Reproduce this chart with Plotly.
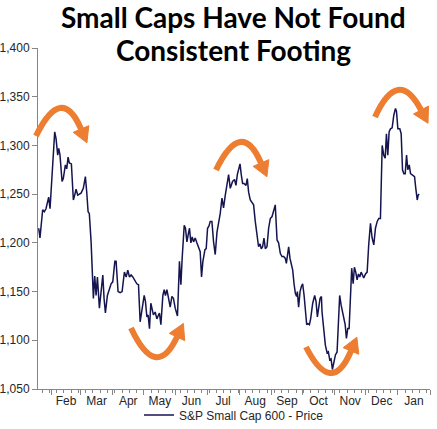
import pandas as pd
import plotly.graph_objects as go

# ---------------- data ----------------
start_date = "2023-01-19"
# calendar-day offsets from start_date for each observation
day_offsets = [
    0.7, 1.9, 4.5, 6.1, 7.7, 10.3, 11.6, 13.5, 14.8, 16.1,
    17.4, 19.0, 20.0, 21.2, 23.2, 24.4, 26.4, 27.7, 29.0, 30.2,
    32.2, 34.1, 35.4, 36.7, 38.3, 41.5, 43.7, 45.7, 47.0, 48.3,
    49.5, 51.2, 53.4, 54.7, 56.0, 57.3, 59.2, 61.1, 62.5, 63.7,
    65.0, 66.9, 68.8, 70.5, 72.1, 74.1, 75.3, 77.2, 79.2, 81.1,
    83.3, 85.0, 86.6, 88.2, 89.8, 91.4,
    95.3, 96.9, 98.5, 100.4, 102.4, 103.6, 105.0, 106.2, 107.5, 108.8,
    110.1, 111.3, 113.0, 114.6, 116.2, 117.1, 118.5, 120.4, 121.7, 122.9,
    124.3, 125.8, 127.5, 129.1, 130.6, 132.3, 134.5, 136.4, 137.8, 139.0,
    141.0, 142.2, 143.6, 145.1, 146.1, 147.4, 148.7, 150.0, 151.6, 153.2,
    154.8, 156.4, 157.7, 159.0, 161.0, 162.2, 163.5, 164.8, 166.1, 167.7,
    169.3, 170.9, 172.6, 174.1, 175.7, 177.4, 178.9, 180.6, 182.2,
    183.8, 185.4, 187.6, 189.5, 190.9, 192.2, 193.4, 194.8, 196.0, 197.3,
    198.6, 200.6, 201.8, 203.1, 204.7, 206.3, 207.9, 209.5, 211.2, 212.7,
    214.1, 215.3, 216.6, 217.9, 219.2, 220.8, 222.4, 224.0, 225.7, 227.2,
    228.8, 230.5, 232.0, 233.7, 235.3, 236.9, 238.5, 239.5, 240.4, 241.7,
    243.0, 244.3, 245.6, 246.9, 248.2, 249.4, 250.1, 251.3, 252.7, 253.9,
    255.2, 256.6, 257.8, 259.1, 260.4, 261.7, 262.9, 264.9, 266.8, 268.1,
    269.4, 270.7, 272.0, 273.3,
    273.9, 275.5, 277.1, 278.8, 280.0, 281.3, 282.6, 283.9, 285.1, 286.8,
    288.4, 290.0, 290.9, 292.3, 293.5, 294.8, 296.2, 297.4, 298.7, 300.0,
    301.3, 302.5, 303.9, 305.1, 306.4, 307.7, 309.0, 310.3, 311.6, 312.9,
    314.1, 315.8, 317.4, 318.9, 320.6, 322.2, 323.8, 325.4, 327.1, 328.6,
    330.2, 331.9, 333.4, 334.8, 336.0, 337.3, 338.6, 339.9, 341.5, 343.1,
    344.7, 345.7, 347.0, 348.9, 350.2, 351.5, 352.8, 354.1, 355.4, 356.6,
    358.0, 359.2, 360.5, 361.8, 363.1, 364.3, 365.7, 366.6, 367.6,
]
price = [
    1215, 1205, 1234, 1232, 1235, 1247, 1235, 1271, 1283, 1314,
    1307, 1290, 1297, 1290, 1263, 1266, 1280, 1276, 1288, 1282,
    1281, 1244, 1249, 1255, 1249, 1251, 1256, 1268, 1252, 1232,
    1230, 1201, 1143, 1166, 1146, 1165, 1133, 1153, 1167, 1143,
    1128, 1146, 1153, 1158, 1160, 1181, 1181, 1150, 1149, 1150,
    1170, 1165, 1172, 1165, 1167, 1165,
    1158, 1157, 1119, 1133, 1146, 1140, 1124, 1126, 1112, 1138,
    1131, 1126, 1129, 1122, 1126, 1128, 1116, 1146, 1152, 1146,
    1152, 1143, 1134, 1145, 1143, 1133, 1125, 1181, 1157, 1184,
    1218, 1215, 1201, 1210, 1215, 1200, 1206, 1201, 1205, 1200,
    1196, 1191, 1165, 1181, 1193, 1194, 1215, 1217, 1222, 1222,
    1201, 1188, 1211, 1220, 1230, 1246, 1236, 1249, 1262,
    1270, 1256, 1263, 1265, 1259, 1270, 1276, 1281, 1270, 1261,
    1261, 1259, 1266, 1252, 1244, 1242, 1239, 1222, 1208, 1196,
    1199, 1194, 1196, 1205, 1194, 1196, 1215, 1225, 1227, 1234,
    1239, 1203, 1200, 1189, 1186, 1186, 1184, 1179, 1189, 1196,
    1184, 1177, 1172, 1158, 1148, 1145, 1150, 1134, 1150, 1155,
    1158, 1146, 1133, 1116, 1117, 1116, 1122, 1138, 1146, 1140,
    1124, 1134, 1143, 1145,
    1129, 1112, 1095, 1087, 1088, 1080, 1081, 1070, 1078, 1085,
    1088, 1126, 1146, 1136, 1129, 1122, 1116, 1102, 1112, 1112,
    1146, 1174, 1158, 1175, 1170, 1162, 1168, 1165, 1170, 1167,
    1164, 1168, 1170, 1198, 1220, 1205, 1198, 1215, 1222, 1225,
    1225, 1300, 1290, 1287, 1312, 1290, 1314, 1317, 1318, 1331,
    1338, 1335, 1317, 1317, 1312, 1275, 1271, 1271, 1290, 1275,
    1280, 1271, 1270, 1269, 1268, 1256, 1244, 1249, 1250,
]
assert len(day_offsets) == len(price), (len(day_offsets), len(price))

series_name = "S&P Small Cap 600 - Price"
title_lines = ["Small Caps Have Not Found", "Consistent Footing"]
x_range = ["2023-01-19", "2024-02-01"]
y_range = [1050, 1400]

dates = pd.Timestamp(start_date) + pd.to_timedelta(day_offsets, unit="D")

# ---------------- figure ----------------
W, H = 437, 429
ML, MR, MT, MB = 38, 7, 48, 40
PW, PH = W - ML - MR, H - MT - MB

def px2paper(x, y):
    return ((x - ML) / PW, (H - MB - y) / PH)

NAVY = "#14144f"
ORANGE = "#ED7D31"
AXIS = "#868686"
TXT = "#262626"
SANS = "Arial, Liberation Sans, sans-serif"

fig = go.Figure()
fig.add_trace(go.Scatter(
    x=dates, y=price, mode="lines", name=series_name,
    line=dict(color=NAVY, width=1.5),
))

# decorative curved arrows (pixel positions of start, apex, arc end)
arrows = [
    ((36, 136), (60, 108), (81, 129)),
    ((216, 170), (240, 142), (261, 163)),
    ((375, 117), (398, 90), (421, 110)),
    ((131, 328), (155, 357), (177, 337)),
    ((306, 347), (330, 373), (351, 351)),
]
shapes = []
for p0, ap, p2 in arrows:
    cx = 2 * ap[0] - 0.5 * (p0[0] + p2[0])
    cy = 2 * ap[1] - 0.5 * (p0[1] + p2[1])
    tx, ty = p2[0] - cx, p2[1] - cy
    n = (tx * tx + ty * ty) ** 0.5
    tx, ty = tx / n, ty / n
    L, Wd = 15, 8.5
    tip = (p2[0] + L * tx, p2[1] + L * ty)
    w1 = (p2[0] - Wd * ty, p2[1] + Wd * tx)
    w2 = (p2[0] + Wd * ty, p2[1] - Wd * tx)
    a0 = px2paper(*p0); c = px2paper(cx, cy); a2 = px2paper(*p2)
    shapes.append(dict(
        type="path", xref="paper", yref="paper",
        path=f"M {a0[0]},{a0[1]} Q {c[0]},{c[1]} {a2[0]},{a2[1]}",
        line=dict(color=ORANGE, width=6),
    ))
    t = px2paper(*tip); q1 = px2paper(*w1); q2 = px2paper(*w2)
    shapes.append(dict(
        type="path", xref="paper", yref="paper",
        path=f"M {t[0]},{t[1]} L {q1[0]},{q1[1]} L {q2[0]},{q2[1]} Z",
        fillcolor=ORANGE, line=dict(color=ORANGE, width=1),
    ))

annotations = []
for line_text, ypx in zip(title_lines, [17, 50]):
    annotations.append(dict(
        text=f"<b>{line_text}</b>", xref="paper", yref="paper",
        x=px2paper(233, 0)[0], y=px2paper(0, ypx)[1],
        xanchor="center", yanchor="middle", showarrow=False,
        font=dict(family="Lato, Arial, sans-serif", size=28, color="black"),
    ))

fig.update_layout(
    width=W, height=H, template="none",
    margin=dict(l=ML, r=MR, t=MT, b=MB, pad=0, autoexpand=False),
    paper_bgcolor="white", plot_bgcolor="white",
    font=dict(family=SANS, size=12, color=TXT),
    showlegend=True,
    legend=dict(orientation="h", x=0.5, xanchor="center",
                y=px2paper(0, 415)[1], yanchor="middle",
                font=dict(family=SANS, size=12, color=TXT),
                bgcolor="rgba(0,0,0,0)"),
    shapes=shapes, annotations=annotations,
    xaxis=dict(
        type="date", range=x_range, showgrid=False, zeroline=False,
        showline=True, linecolor=AXIS, linewidth=1,
        ticks="outside", ticklen=5, tickcolor=AXIS,
        dtick="M1", tick0="2023-01-01", tickformat="%b",
        ticklabelmode="period", automargin=False, ticklabelstandoff=-4,
        minor=dict(ticks="outside", ticklen=3, tickcolor=AXIS,
                   dtick=7 * 86400000, tick0="2023-01-02", showgrid=False),
        tickfont=dict(family=SANS, size=12, color=TXT),
    ),
    yaxis=dict(
        range=y_range, dtick=50, tickformat=",", showgrid=False,
        zeroline=False, showline=True, linecolor=AXIS, linewidth=1,
        ticks="outside", ticklen=5, tickcolor=AXIS, automargin=False,
        tickfont=dict(family=SANS, size=12, color=TXT),
    ),
)

# remove the browser's default 8px page margin so the figure sits at (0, 0)
fig.write_html(
    "out.html",
    config={"displayModeBar": False},
    post_script="document.body.style.margin='0';document.body.style.padding='0';",
)
